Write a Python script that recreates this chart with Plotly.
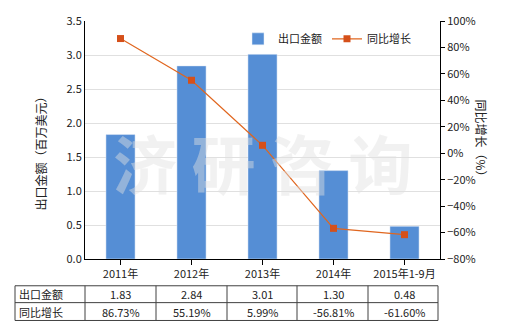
import plotly.graph_objects as go

categories = ["2011年", "2012年", "2013年", "2014年", "2015年1-9月"]
export_values = [1.83, 2.84, 3.01, 1.30, 0.48]
growth_values = [86.73, 55.19, 5.99, -56.81, -61.60]
export_labels = ["1.83", "2.84", "3.01", "1.30", "0.48"]
growth_labels = ["86.73%", "55.19%", "5.99%", "-56.81%", "-61.60%"]
row_names = ["出口金额", "同比增长"]

FONT = "Noto Sans CJK SC"
xs = list(range(len(categories)))

fig = go.Figure()
fig.add_trace(go.Bar(x=xs, y=export_values, name="出口金额", marker_color="#558ED5",
                     width=0.41, yaxis="y"))
fig.add_trace(go.Scatter(x=xs, y=growth_values, name="同比增长", mode="lines+markers",
                         line=dict(color="#E0661F", width=1.2),
                         marker=dict(symbol="square", size=7, color="#D5501A"),
                         yaxis="y2"))

PH = 240.0
PW = 355.0
def py(pix):
    return (259 - pix) / PH
def px(pix):
    return (pix - 85) / PW

shapes = []
line_c = "#404040"
for yy in [286, 303, 321]:
    shapes.append(dict(type="line", xref="paper", yref="paper", x0=px(15), x1=px(438),
                       y0=py(yy), y1=py(yy), line=dict(color=line_c, width=1)))
for xx in [15, 85, 156, 227, 297, 368, 438]:
    shapes.append(dict(type="line", xref="paper", yref="paper", x0=px(xx), x1=px(xx),
                       y0=py(286), y1=py(321), line=dict(color=line_c, width=1)))

ann = []
rows = [export_labels, growth_labels]
row_y = [py(294.5), py(312)]
for r, (name, vals) in enumerate(zip(row_names, rows)):
    ann.append(dict(x=px(17), y=row_y[r], xref="paper", yref="paper", text=name,
                    showarrow=False, xanchor="left", yanchor="middle",
                    font=dict(family=FONT, size=11, color="#222")))
    for i, v in enumerate(vals):
        ann.append(dict(x=xs[i], y=row_y[r], xref="x", yref="paper", text=v,
                        showarrow=False, xanchor="center", yanchor="middle",
                        font=dict(family=FONT, size=11, color="#222")))

ann.append(dict(x=px(30), y=py(150), xref="paper", yref="paper", text="出口金额（百万美元）",
                textangle=-90, showarrow=False, font=dict(family=FONT, size=12, color="#222")))
ann.append(dict(x=px(492), y=py(140), xref="paper", yref="paper", text="同比增长（%）",
                textangle=90, showarrow=False, font=dict(family=FONT, size=12, color="#222")))
ann.append(dict(x=0.5, y=py(160), xref="paper", yref="paper", text="济 研 咨 询",
                showarrow=False,
                font=dict(family=FONT, size=64, color="rgba(225,225,225,0.45)", weight="bold")))

fig.update_layout(
    width=520, height=330,
    margin=dict(l=85, r=80, t=19, b=71),
    paper_bgcolor="white", plot_bgcolor="white",
    font=dict(family=FONT, size=11, color="#222"),
    showlegend=True,
    legend=dict(orientation="h", x=px(238), y=py(37), xanchor="left", yanchor="middle",
                bgcolor="rgba(0,0,0,0)", font=dict(family=FONT, size=11, color="#222"),
                itemwidth=30),
    xaxis=dict(range=[-0.5, 4.5], tickmode="array", tickvals=xs, ticktext=categories,
               showline=True, linecolor="black", linewidth=1, ticks="outside",
               ticklen=5, tickcolor="black", showgrid=False, zeroline=False,
               tickfont=dict(family=FONT, size=11, color="#222")),
    yaxis=dict(range=[0, 3.5], dtick=0.5, tickformat=".1f", showline=True,
               linecolor="black", linewidth=1, showgrid=True, gridcolor="#E0E0E0",
               zeroline=False, ticks="", tickfont=dict(family=FONT, size=11, color="#222")),
    yaxis2=dict(range=[-80, 100], dtick=20, ticksuffix="%", overlaying="y", side="right",
                showline=True, linecolor="black", linewidth=1, showgrid=False,
                zeroline=False, ticks="outside", ticklen=4, tickcolor="black",
                tickfont=dict(family=FONT, size=11, color="#222")),
    shapes=shapes,
    annotations=ann,
    bargap=0.59,
)

fig.write_html("out.html")
